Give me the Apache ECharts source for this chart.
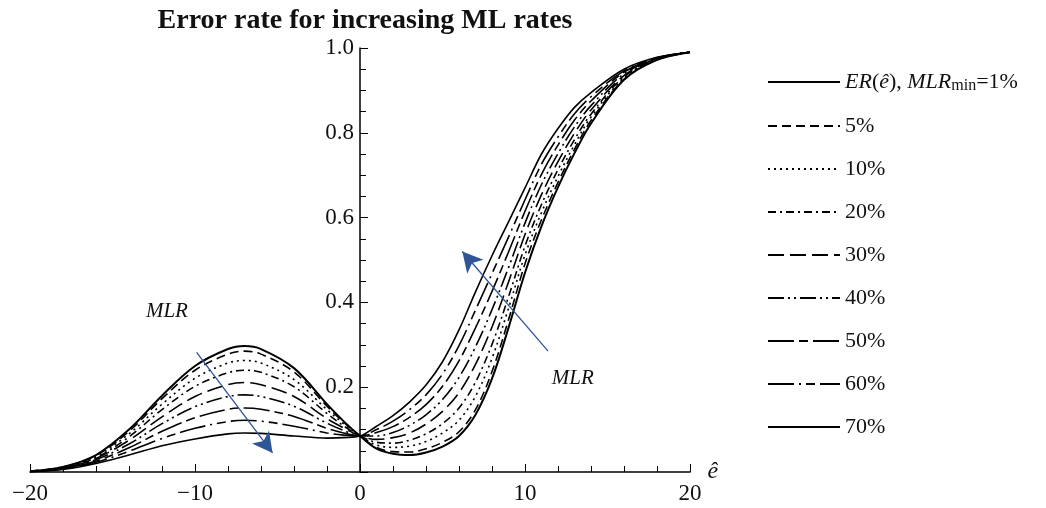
<!DOCTYPE html>
<html>
<head>
<meta charset="utf-8">
<script src="https://cdn.jsdelivr.net/npm/echarts@6/dist/echarts.min.js"></script>
<style>
  html, body { margin: 0; padding: 0; background: #fff; }
  #main { width: 1046px; height: 508px; }
</style>
</head>
<body>
<div id="main"></div>
<script>
var xs = [-20, -18, -16, -14, -12, -10, -8, -7, -6, -4, -2, -1, 0,
          1, 2, 3, 4, 5, 6, 7, 8, 9, 10, 11, 12, 13, 14, 16, 18, 20];

// error rate for each MLR_min
var er1  = [0.002, 0.012, 0.040, 0.100, 0.180, 0.250, 0.290, 0.297, 0.290, 0.245, 0.160, 0.120, 0.085,
            0.055, 0.043, 0.040, 0.046, 0.060, 0.085, 0.135, 0.220, 0.340, 0.470, 0.580, 0.672, 0.752, 0.822, 0.925, 0.972, 0.990];
var er5  = [0.002, 0.012, 0.039, 0.096, 0.173, 0.240, 0.278, 0.285, 0.278, 0.236, 0.155, 0.118, 0.085,
            0.058, 0.048, 0.047, 0.055, 0.070, 0.095, 0.147, 0.237, 0.359, 0.491, 0.595, 0.683, 0.761, 0.829, 0.926, 0.972, 0.990];
var er10 = [0.002, 0.011, 0.037, 0.090, 0.160, 0.221, 0.257, 0.263, 0.257, 0.218, 0.147, 0.114, 0.085,
            0.064, 0.058, 0.061, 0.072, 0.092, 0.122, 0.179, 0.268, 0.386, 0.512, 0.612, 0.697, 0.772, 0.837, 0.929, 0.973, 0.990];
var er20 = [0.002, 0.010, 0.034, 0.083, 0.147, 0.202, 0.234, 0.240, 0.235, 0.201, 0.138, 0.109, 0.085,
            0.070, 0.068, 0.075, 0.090, 0.114, 0.151, 0.212, 0.301, 0.413, 0.533, 0.631, 0.713, 0.784, 0.844, 0.932, 0.974, 0.990];
var er30 = [0.002, 0.009, 0.032, 0.075, 0.130, 0.178, 0.206, 0.211, 0.206, 0.178, 0.126, 0.104, 0.085,
            0.077, 0.081, 0.092, 0.113, 0.143, 0.187, 0.254, 0.342, 0.448, 0.560, 0.654, 0.732, 0.799, 0.854, 0.935, 0.975, 0.990];
var er40 = [0.001, 0.009, 0.029, 0.066, 0.114, 0.154, 0.178, 0.182, 0.178, 0.155, 0.115, 0.098, 0.085,
            0.085, 0.093, 0.110, 0.135, 0.171, 0.223, 0.295, 0.383, 0.482, 0.587, 0.678, 0.751, 0.814, 0.864, 0.939, 0.975, 0.990];
var er50 = [0.001, 0.008, 0.026, 0.057, 0.096, 0.128, 0.148, 0.151, 0.148, 0.131, 0.103, 0.092, 0.085,
            0.093, 0.107, 0.129, 0.159, 0.202, 0.262, 0.340, 0.426, 0.519, 0.615, 0.702, 0.771, 0.830, 0.875, 0.943, 0.976, 0.990];
var er60 = [0.001, 0.007, 0.023, 0.049, 0.079, 0.103, 0.119, 0.122, 0.120, 0.108, 0.092, 0.087, 0.085,
            0.100, 0.120, 0.147, 0.182, 0.231, 0.298, 0.382, 0.468, 0.554, 0.642, 0.726, 0.790, 0.845, 0.885, 0.946, 0.977, 0.990];
var er70 = [0.001, 0.006, 0.020, 0.040, 0.062, 0.078, 0.090, 0.092, 0.091, 0.085, 0.080, 0.081, 0.085,
            0.108, 0.133, 0.165, 0.205, 0.260, 0.335, 0.425, 0.510, 0.590, 0.670, 0.750, 0.810, 0.860, 0.895, 0.950, 0.978, 0.990];

var names = ['1%', '5%', '10%', '20%', '30%', '40%', '50%', '60%', '70%'];
var values = [er1, er5, er10, er20, er30, er40, er50, er60, er70];
// dash patterns like in the legend
var dashes = ['solid', [9, 5], [2, 4], [8, 4, 2, 4], [16, 6], [16, 4, 2, 4, 2, 4], [26, 5, 9, 5], [26, 5, 2, 5, 9, 5], 'solid'];
var widths = [2, 1.6, 1.6, 1.6, 1.6, 1.6, 1.6, 1.6, 1.6];

var xTicks = [-20, -10, 0, 10, 20];
var yTicks = [0.2, 0.4, 0.6, 0.8, 1.0];

// annotation arrows (data coords), tail then head
var arrowLeft = [[-9.9, 0.282], [-5.3, 0.045]];
var arrowRight = [[11.4, 0.285], [6.2, 0.52]];
var mlrLabels = [[-11.7, 0.378], [12.9, 0.22]];

var serif = 'Liberation Serif';
var myChart = echarts.init(document.getElementById('main'));

var series = names.map(function (n, k) {
    return {
        name: n,
        type: 'line',
        smooth: 0.35,
        symbol: 'none',
        silent: true,
        data: xs.map(function (x, i) { return [x, values[k][i]]; }),
        lineStyle: { color: '#000', width: widths[k], type: dashes[k] },
        itemStyle: { color: '#000' }
    };
});

// arrows and the MLR labels ride on the last series
series[series.length - 1].markLine = {
    silent: true,
    symbol: ['none', 'arrow'],
    symbolSize: [16, 20],
    label: { show: false },
    lineStyle: { color: '#2F5597', width: 1.3, type: 'solid' },
    data: [
        [{ coord: arrowLeft[0] }, { coord: arrowLeft[1] }],
        [{ coord: arrowRight[0] }, { coord: arrowRight[1] }]
    ]
};
series[series.length - 1].markPoint = {
    silent: true,
    symbol: 'circle',
    symbolSize: 1,
    itemStyle: { color: 'rgba(0,0,0,0)' },
    label: {
        show: true,
        position: 'inside',
        formatter: 'MLR',
        fontFamily: serif,
        fontStyle: 'italic',
        fontSize: 21,
        color: '#111'
    },
    data: mlrLabels.map(function (c) { return { coord: c }; })
};

myChart.setOption({
    animation: false,
    backgroundColor: '#fff',
    title: {
        text: 'Error rate for increasing ML rates',
        left: 360,
        textAlign: 'center',
        top: 2,
        textStyle: { fontFamily: serif, fontWeight: 'bold', fontSize: 28, color: '#111' }
    },
    legend: {
        orient: 'vertical',
        left: 762,
        top: 66,
        itemWidth: 72,
        itemHeight: 14,
        itemGap: 21,
        data: names,
        itemStyle: { opacity: 0 },
        formatter: function (n) {
            if (n === '1%') return '{i|ER}({i|ê}), {i|MLR}{sub|min}=1%';
            return n;
        },
        textStyle: {
            fontFamily: serif,
            fontSize: 22,
            color: '#111',
            rich: {
                i: { fontFamily: serif, fontStyle: 'italic', fontSize: 22, color: '#111' },
                sub: { fontFamily: serif, fontSize: 16, color: '#111', padding: [8, 0, 0, 0] }
            }
        }
    },
    grid: { left: 30, right: 356, top: 48, bottom: 36 },
    xAxis: {
        type: 'value',
        min: -20,
        max: 20,
        interval: 10,
        name: 'ê',
        nameLocation: 'end',
        nameGap: 4,
        nameTextStyle: { fontFamily: serif, fontStyle: 'italic', fontSize: 24, color: '#111', padding: [22, 0, 0, 0] },
        splitLine: { show: false },
        axisLine: { lineStyle: { color: '#000', width: 1.5 } },
        axisTick: { inside: true, length: 8, lineStyle: { color: '#000' } },
        minorTick: { show: true, splitNumber: 5, length: 6, lineStyle: { color: '#000' } },
        axisLabel: {
            fontFamily: serif,
            fontSize: 23,
            color: '#111',
            margin: 10,
            formatter: function (v) {
                if (xTicks.indexOf(v) < 0) return '';
                return v < 0 ? '\u2212' + Math.abs(v) : String(v);
            }
        }
    },
    yAxis: {
        type: 'value',
        min: 0,
        max: 1,
        interval: 0.2,
        offset: -330,
        splitLine: { show: false },
        axisLine: { onZero: false, lineStyle: { color: '#000', width: 1.5 } },
        axisTick: { inside: true, length: 8, lineStyle: { color: '#000' } },
        minorTick: { show: true, splitNumber: 4, length: 6, lineStyle: { color: '#000' } },
        axisLabel: {
            fontFamily: serif,
            fontSize: 23,
            color: '#111',
            margin: 6,
            formatter: function (v) {
                var hit = yTicks.some(function (t) { return Math.abs(t - v) < 1e-6; });
                return hit ? v.toFixed(1) : '';
            }
        }
    },
    series: series
});
</script>
</body>
</html>
